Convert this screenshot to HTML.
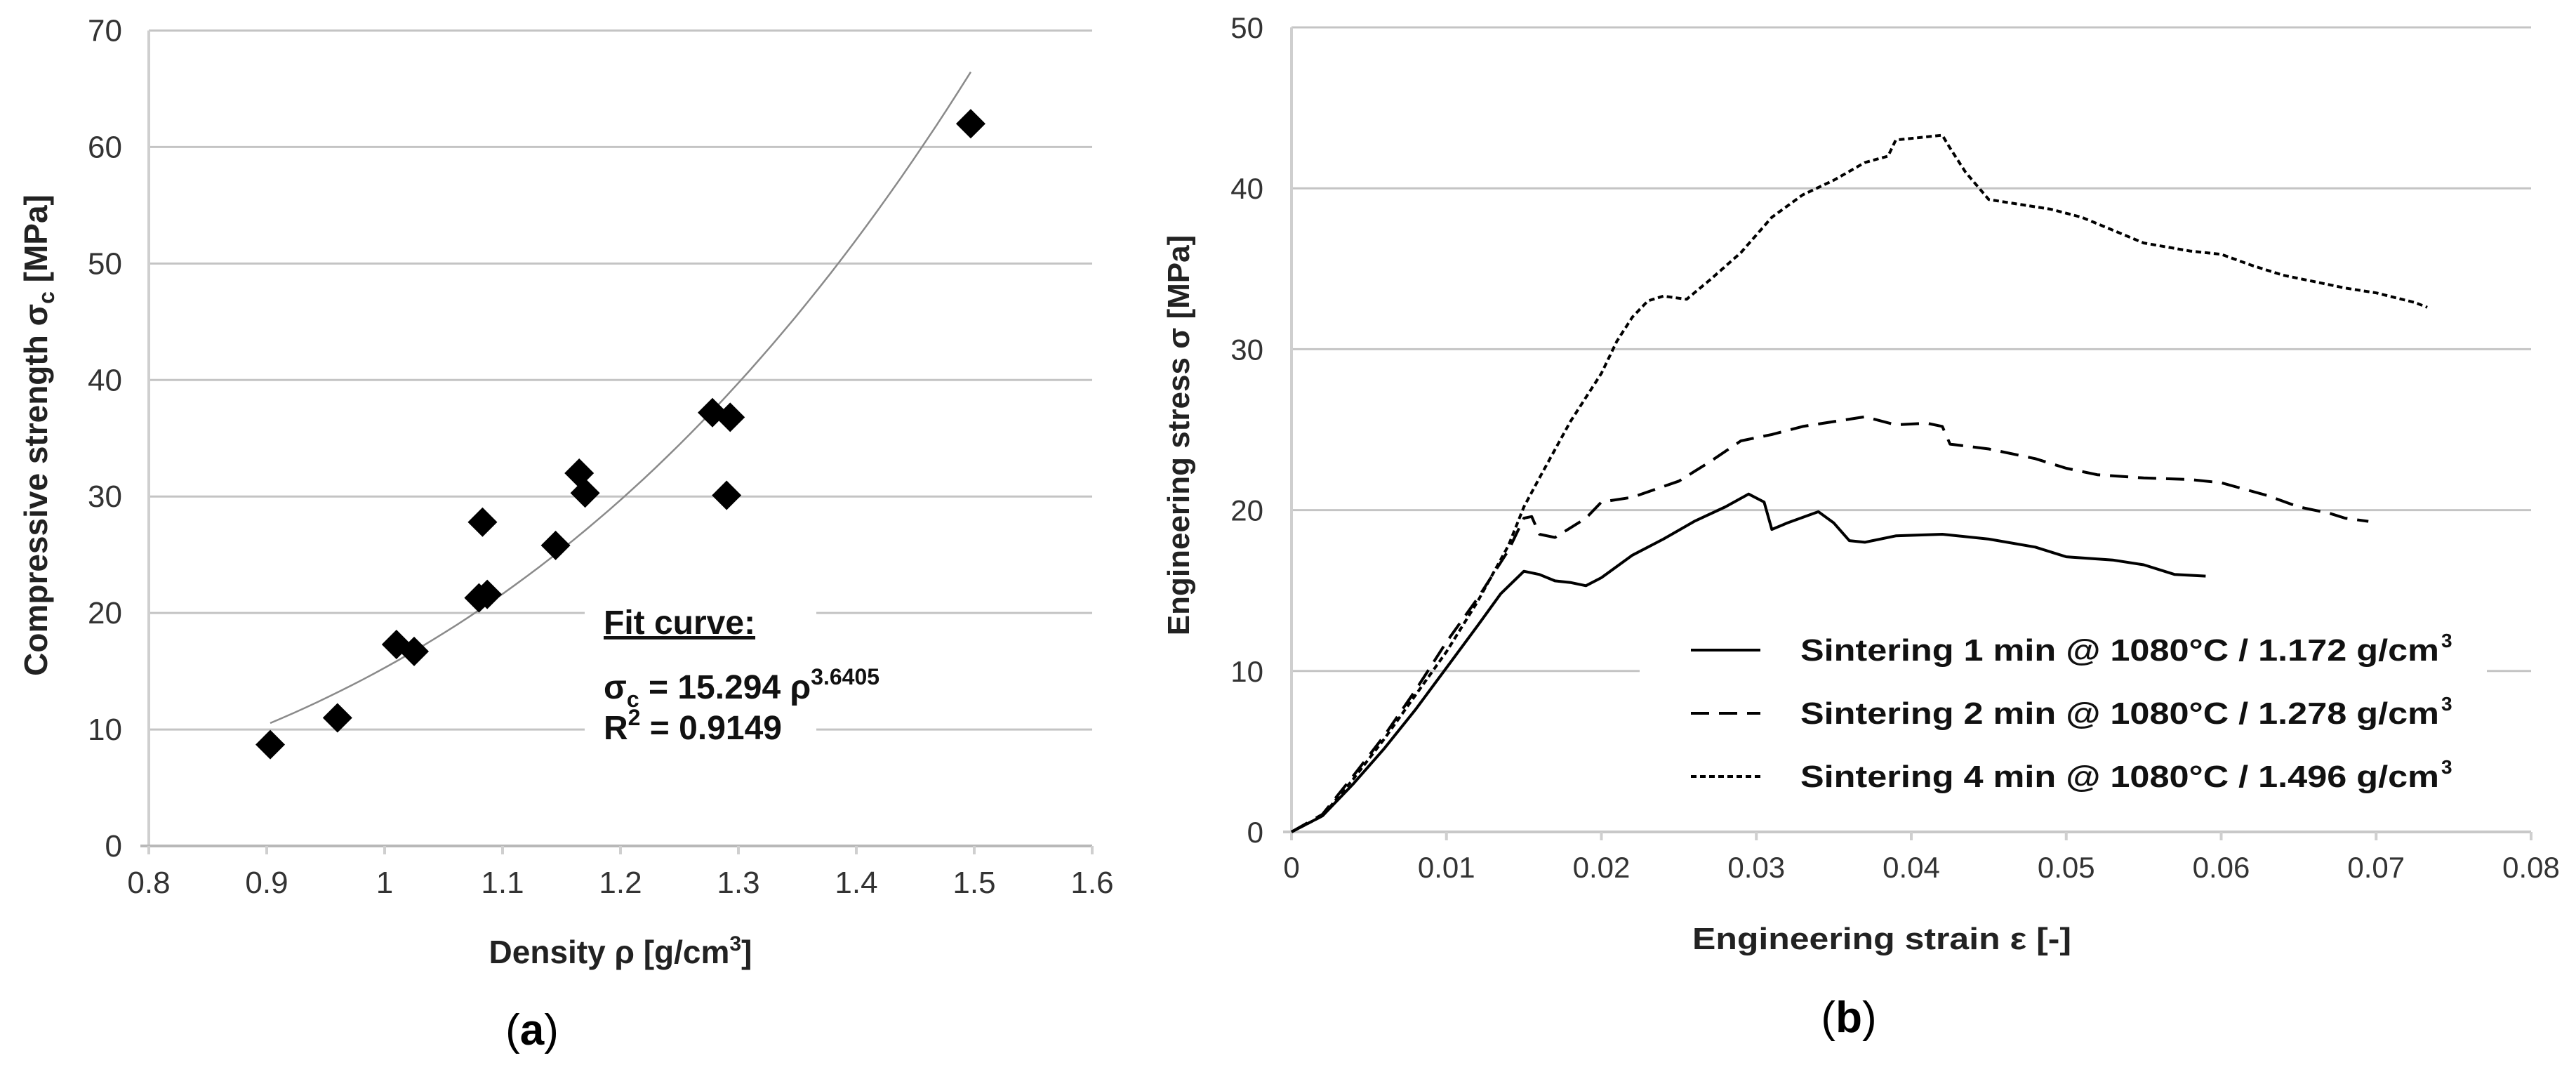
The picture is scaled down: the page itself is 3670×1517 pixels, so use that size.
<!DOCTYPE html>
<html><head><meta charset="utf-8"><style>
html,body{margin:0;padding:0;background:#fff;width:3670px;height:1517px;overflow:hidden}
svg text{font-family:"Liberation Sans",Arial,sans-serif}
</style></head><body>
<svg id="fig" width="3670" height="1517" viewBox="0 0 3670 1517" xmlns="http://www.w3.org/2000/svg">
<g id="chartA"></g>
<g id="chartB"></g>
</svg>
<script>
// ---------- Chart (a) data ----------
const densityValues = [0.903,0.96,1.01,1.025,1.08,1.087,1.083,1.145,1.165,1.17,1.278,1.293,1.29,1.497];
const strengthValues = [8.7,11.0,17.3,16.7,21.3,21.6,27.8,25.8,32.0,30.3,37.2,36.8,30.1,62.0];
const aXTicks = [0.8,0.9,1,1.1,1.2,1.3,1.4,1.5,1.6];
const aYTicks = [0,10,20,30,40,50,60,70];
const fitCoef = 15.294, fitExp = 3.6405, fitRange = [0.903,1.497];

// ---------- Chart (b) data ----------
const bXTicks = [0,0.01,0.02,0.03,0.04,0.05,0.06,0.07,0.08];
const bYTicks = [0,10,20,30,40,50];
const strain1 = [0,0.002,0.004,0.006,0.008,0.01,0.012,0.0135,0.015,0.016,0.017,0.018,0.019,0.02,0.022,0.024,0.026,0.028,0.0295,0.0305,0.031,0.032,0.034,0.035,0.036,0.037,0.039,0.042,0.045,0.048,0.05,0.053,0.055,0.057,0.059];
const stress1 = [0,1,3,5.2,7.6,10.2,12.8,14.8,16.2,16,15.6,15.5,15.3,15.8,17.2,18.2,19.3,20.2,21,20.5,18.8,19.2,19.9,19.2,18.1,18,18.4,18.5,18.2,17.7,17.1,16.9,16.6,16,15.9];
const strain2 = [0,0.002,0.004,0.006,0.008,0.01,0.012,0.014,0.015,0.0155,0.016,0.017,0.019,0.02,0.022,0.025,0.027,0.029,0.031,0.033,0.035,0.037,0.039,0.041,0.042,0.0425,0.045,0.048,0.05,0.052,0.055,0.058,0.06,0.063,0.065,0.067,0.068,0.0695];
const stress2 = [0,1.1,3.5,6,8.8,11.8,14.5,17.5,19.5,19.6,18.5,18.3,19.5,20.5,20.8,21.8,23,24.3,24.7,25.2,25.5,25.8,25.3,25.4,25.2,24.1,23.8,23.2,22.6,22.2,22,21.9,21.7,20.9,20.2,19.8,19.5,19.3];
const strain3 = [0,0.002,0.004,0.006,0.008,0.01,0.012,0.014,0.015,0.016,0.018,0.02,0.021,0.022,0.023,0.024,0.0255,0.027,0.029,0.031,0.033,0.035,0.037,0.0385,0.039,0.041,0.042,0.0425,0.0435,0.045,0.047,0.049,0.051,0.053,0.055,0.058,0.06,0.062,0.064,0.066,0.068,0.07,0.0725,0.0733];
const stress3 = [0,1,3.3,5.8,8.5,11.2,14.3,17.8,20.2,22,25.5,28.5,30.5,32,33,33.3,33.1,34.3,36,38.2,39.6,40.5,41.6,42,43,43.2,43.3,42.5,41,39.3,39,38.7,38.2,37.4,36.6,36.1,35.9,35.2,34.6,34.2,33.8,33.5,32.9,32.6];
const legendLabels = ["Sintering 1 min @ 1080°C / 1.172 g/cm","Sintering 2 min @ 1080°C / 1.278 g/cm","Sintering 4 min @ 1080°C / 1.496 g/cm"];

const NS="http://www.w3.org/2000/svg";
function mk(parent,tag,attrs,text){const e=document.createElementNS(NS,tag);for(const k in attrs)e.setAttribute(k,attrs[k]);if(text!==undefined)e.textContent=text;parent.appendChild(e);return e;}

// ---------- draw chart (a) ----------
(function(){
const g=document.getElementById('chartA');
const x=v=>212+(v-0.8)/0.8*1344;
const y=v=>1205-v/70*1161.5;
aYTicks.forEach(t=>{
  if(t>0){const l=mk(g,'line',{x1:x(0.8),x2:x(1.6),y1:y(t),y2:y(t),stroke:'#c4c4c4','stroke-width':3});
  
  }
  const tx=mk(g,'text',{x:174,y:y(t)+15,'text-anchor':'end','font-size':44,fill:'#333'},String(t));
  
  
});
mk(g,'line',{x1:x(0.8),x2:x(0.8),y1:y(70),y2:y(0)+12,stroke:'#cfcfcf','stroke-width':4});
mk(g,'line',{x1:x(0.8)-12,x2:x(1.6),y1:y(0),y2:y(0),stroke:'#b8b8b8','stroke-width':4});
aXTicks.forEach(t=>{
  mk(g,'line',{x1:x(t),x2:x(t),y1:y(0),y2:y(0)+12,stroke:'#cfcfcf','stroke-width':4});
  const tx=mk(g,'text',{x:x(t),y:1272,'text-anchor':'middle','font-size':44,fill:'#333'},String(t));
  
  
});
// legend box background (breaks gridlines)
mk(g,'rect',{x:833,y:850,width:330,height:205,fill:'#fff'});
// fit curve
let d='';for(let i=0;i<=60;i++){const r=fitRange[0]+(fitRange[1]-fitRange[0])*i/60;d+=(i?'L':'M')+x(r).toFixed(1)+','+y(fitCoef*Math.pow(r,fitExp)).toFixed(1);}
const fc=mk(g,'path',{d:d,fill:'none',stroke:'#8a8a8a','stroke-width':2.5});


densityValues.forEach((v,i)=>{
  const cx=x(v),cy=y(strengthValues[i]),s=21;
  const p=mk(g,'path',{d:`M${cx},${cy-s}L${cx+s},${cy}L${cx},${cy+s}L${cx-s},${cy}Z`,fill:'#000'});
  
  
});
const t1=mk(g,'text',{x:860,y:903,'font-size':48,'font-weight':'bold',fill:'#111','text-decoration':'underline'},'Fit curve:');


const t2=mk(g,'text',{x:860,y:995,'font-size':48,'font-weight':'bold',fill:'#111'});


t2.innerHTML='σ<tspan font-size="32" dy="12">c</tspan><tspan dy="-12"> = 15.294 ρ</tspan><tspan font-size="32" dy="-20">3.6405</tspan>';
const t3=mk(g,'text',{x:860,y:1053,'font-size':48,'font-weight':'bold',fill:'#111'});


t3.innerHTML='R<tspan font-size="32" dy="-20">2</tspan><tspan dy="20"> = 0.9149</tspan>';
const yt=mk(g,'text',{x:0,y:0,transform:'translate(67,620) rotate(-90)','text-anchor':'middle','font-size':46,'font-weight':'bold',fill:'#222'});


yt.innerHTML='Compressive strength σ<tspan font-size="32" dy="10">c</tspan><tspan dy="-10"> [MPa]</tspan>';
const xt=mk(g,'text',{x:884,y:1372,'text-anchor':'middle','font-size':46,'font-weight':'bold',fill:'#222'});


xt.innerHTML='Density ρ [g/cm<tspan font-size="30" dy="-18">3</tspan><tspan dy="18">]</tspan>';
const lab=mk(g,'text',{x:758,y:1488,'text-anchor':'middle','font-size':62,fill:'#000','font-family':'Liberation Serif, serif'});


lab.innerHTML='(<tspan font-weight="bold">a</tspan>)';
})();

// ---------- draw chart (b) ----------
(function(){
const g=document.getElementById('chartB');
const x=v=>1840+v/0.08*1766;
const y=v=>1185-v/50*1146;
bYTicks.forEach(t=>{
  if(t>0){const l=mk(g,'line',{x1:x(0),x2:x(0.08),y1:y(t),y2:y(t),stroke:'#c4c4c4','stroke-width':3});
  
  }
  const tx=mk(g,'text',{x:1800,y:y(t)+15,'text-anchor':'end','font-size':42,fill:'#333'},String(t));
  
  
});
mk(g,'line',{x1:x(0),x2:x(0),y1:y(50),y2:y(0)+12,stroke:'#cfcfcf','stroke-width':4});
mk(g,'line',{x1:x(0)-12,x2:x(0.08),y1:y(0),y2:y(0),stroke:'#c8c8c8','stroke-width':4});
bXTicks.forEach(t=>{
  mk(g,'line',{x1:x(t),x2:x(t),y1:y(0),y2:y(0)+12,stroke:'#cfcfcf','stroke-width':4});
  const tx=mk(g,'text',{x:x(t),y:1250,'text-anchor':'middle','font-size':42,fill:'#333'},String(t));
  
  
});
mk(g,'rect',{x:2336,y:870,width:1207,height:260,fill:'#fff'});
const series=[[strain1,stress1,'none','series-1min'],[strain2,stress2,'26,14','series-2min'],[strain3,stress3,'8,5','series-4min']];
series.forEach(s=>{
  const d=s[0].map((v,i)=>(i?'L':'M')+x(v).toFixed(1)+','+y(s[1][i]).toFixed(1)).join('');
  const p=mk(g,'path',{d:d,fill:'none',stroke:'#000','stroke-width':4,'stroke-dasharray':s[2],'stroke-linejoin':'round'});
  
  
});
const rows=[926,1016,1106];
legendLabels.forEach((lbl,i)=>{
  const ln=mk(g,'line',{x1:2409,x2:2508,y1:rows[i],y2:rows[i],stroke:'#000','stroke-width':4,'stroke-dasharray':series[i][2]});
  
  
  const t=mk(g,'text',{x:2565,y:rows[i]+15,'font-size':44,'font-weight':'bold',fill:'#111',textLength:910,lengthAdjust:'spacingAndGlyphs'});
  
  
  t.textContent=lbl;
  const sup=mk(g,'text',{x:3478,y:rows[i]-4,'font-size':28,'font-weight':'bold',fill:'#111'},'3');
  
  
});
const yt=mk(g,'text',{x:0,y:0,transform:'translate(1694,620) rotate(-90)','text-anchor':'middle','font-size':44,'font-weight':'bold',fill:'#222'},'Engineering stress σ [MPa]');


const xt=mk(g,'text',{x:2681,y:1352,'text-anchor':'middle','font-size':44,'font-weight':'bold',fill:'#222',textLength:540,lengthAdjust:'spacingAndGlyphs'},'Engineering strain ε [-]');


const lab=mk(g,'text',{x:2634,y:1470,'text-anchor':'middle','font-size':62,fill:'#000','font-family':'Liberation Serif, serif'});


lab.innerHTML='(<tspan font-weight="bold">b</tspan>)';
})();
</script>
</body></html>
